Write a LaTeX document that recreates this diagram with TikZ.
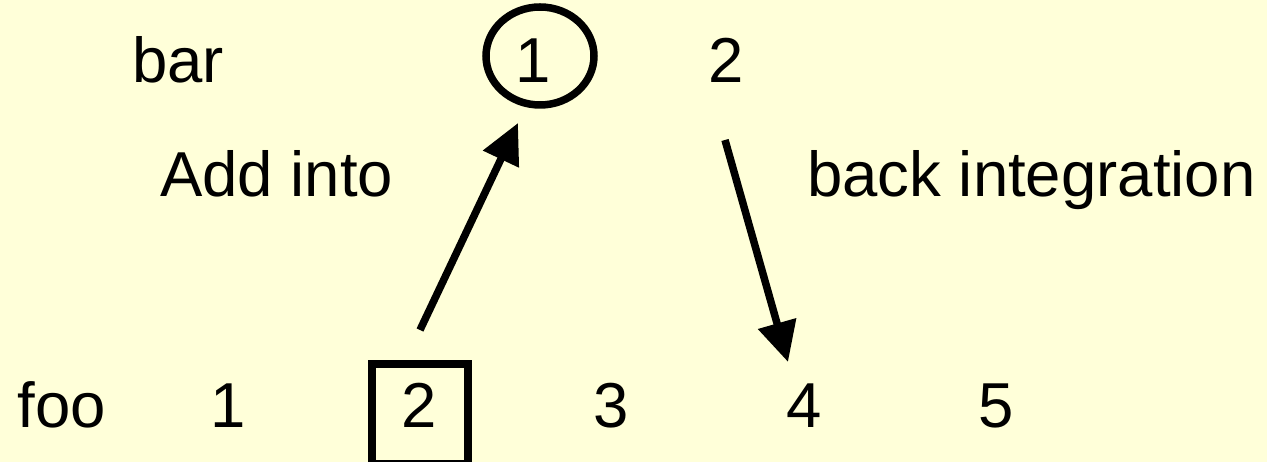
\documentclass[tikz,border=0pt]{standalone}
\usepackage{fontspec}
\setmainfont{Liberation Sans}
\usetikzlibrary{arrows.meta,shapes.geometric}
\definecolor{paper}{RGB}{255,255,217}
\tikzset{
  lbl/.style={anchor=base,inner sep=0pt,font=\fontsize{63.5}{70}\selectfont},
  outline/.style={line width=7.5pt},
  ptr/.style={line width=7.5pt,-{Triangle[length=40pt,width=38pt]}}
}
\begin{document}
\begin{tikzpicture}[x=1pt,y=1pt]
  \fill[paper] (0,0) rectangle (1267,462);
  \useasboundingbox (0,0) rectangle (1267,462);
  % upper row
  \node[lbl] (bar) at (178,379) {bar};
  \node[lbl] (b1) at (533,379) {1};
  \node[lbl] (b2) at (726,379) {2};
  \draw[outline] (540,406) ellipse [x radius=54, y radius=49];
  % captions
  \node[lbl,anchor=base west] (add) at (160,265) {Add into};
  \node[lbl,anchor=base west] (back) at (807,265) {back integration};
  % lower row
  \node[lbl] (foo) at (62,34) {foo};
  \node[lbl] (f1) at (228,34) {1};
  \node[lbl] (f2) at (419,34) {2};
  \node[lbl] (f3) at (611,34) {3};
  \node[lbl] (f4) at (804,34) {4};
  \node[lbl] (f5) at (996,34) {5};
  \draw[outline] (372,-2) rectangle (468,98);
  % arrows
  \coordinate (s1) at (420,132);
  \coordinate (t1) at (518,339);
  \coordinate (s2) at (725,322);
  \coordinate (t2) at (788,100);
  \draw[ptr] (s1) -- (t1);
  \draw[ptr] (s2) -- (t2);
\end{tikzpicture}
\end{document}
